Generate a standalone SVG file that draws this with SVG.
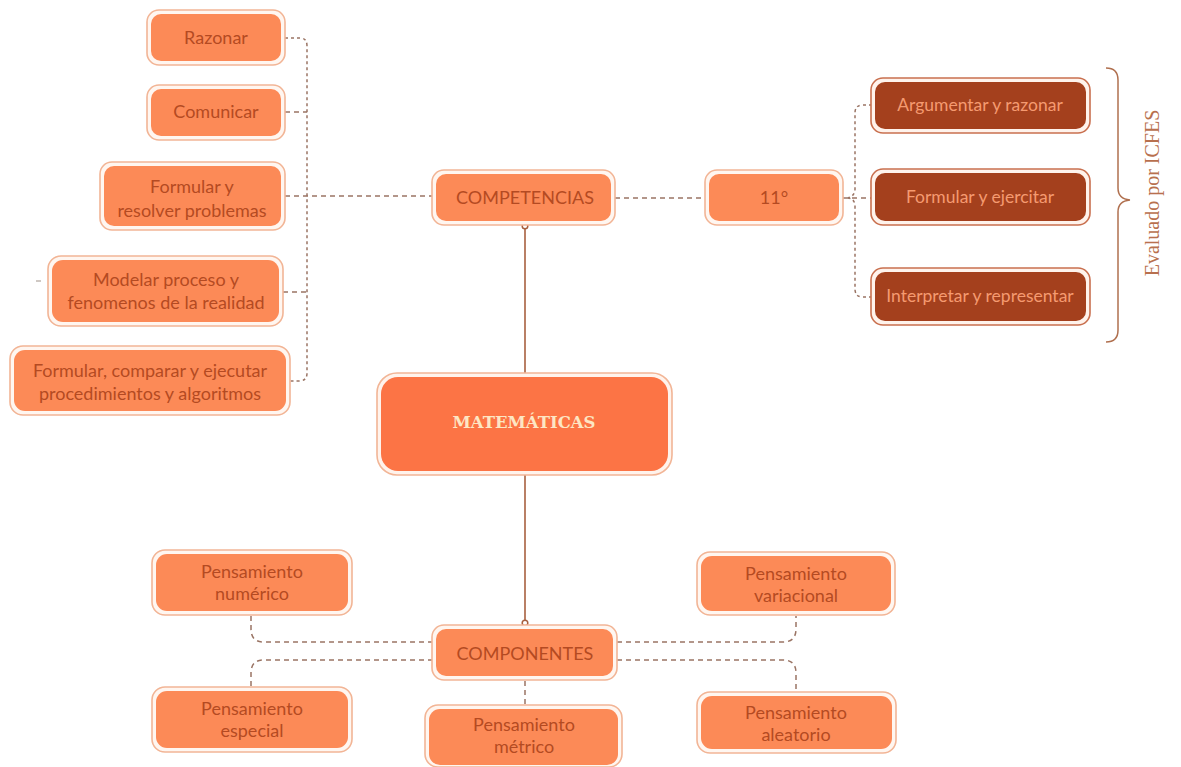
<svg xmlns="http://www.w3.org/2000/svg" width="1181" height="767" viewBox="0 0 1181 767">
<style>
.o{fill:#fff6f0;stroke:#f2b596;stroke-width:1.6}
.i{fill:#fc8a57}
.od{fill:#fff3ec;stroke:#c9704f;stroke-width:1.6}
.id{fill:#a4401d}
.t{font-family:Lato,"Liberation Sans",sans-serif;font-size:18px;fill:#b44a22;text-anchor:middle}
.td{font-family:Lato,"Liberation Sans",sans-serif;font-size:17.5px;fill:#f59a70;text-anchor:middle}
.dash{fill:none;stroke:#9a7464;stroke-width:1.5;stroke-dasharray:5 4}
.dot{fill:none;stroke:#9a7464;stroke-width:1.5;stroke-dasharray:3 3}
.solid{fill:none;stroke:#a8603f;stroke-width:1.6}
</style>
<rect width="1181" height="767" fill="#ffffff"/>
<g id="connectors">
<path class="dot" d="M285 38 H300 Q307 38 307 46 V373 Q307 381 299 381 H290"/>
<path class="dash" d="M285 112 H307"/>
<path class="dash" d="M285 196 H433"/>
<path class="dash" d="M283 292 H307"/>
<path class="dash" d="M615 198 H705"/>
<path class="dash" d="M843 198 H872"/>
<path class="dot" d="M872 105 H863 Q855 105 855 113 V189 Q855 196 848 198"/>
<path class="dot" d="M872 297 H863 Q855 297 855 289 V206 Q855 199 848 198"/>
<path class="solid" d="M525 226 V373"/>
<circle cx="525" cy="226" r="2.8" fill="#fff" stroke="#a8603f" stroke-width="1.5"/>
<path class="solid" d="M525 475 V623"/>
<circle cx="525" cy="623" r="2.8" fill="#fff" stroke="#a8603f" stroke-width="1.5"/>
<path class="dash" d="M251 616 V629 Q251 642 264 642 H433"/>
<path class="dash" d="M433 660 H264 Q251 660 251 673 V687"/>
<path class="dash" d="M617 642 H783 Q796 642 796 629 V616"/>
<path class="dash" d="M617 660 H783 Q796 660 796 673 V692"/>
<path class="dash" d="M525 681 V705"/>
<path d="M36 281 H41" stroke="#b0a39c" stroke-width="1.2"/>
</g>
<g id="razonar"><rect class="o" x="147" y="10" width="138" height="55" rx="12"/><rect class="i" x="151" y="14" width="130" height="47" rx="10"/><text class="t" x="216" y="44">Razonar</text></g>
<g id="comunicar"><rect class="o" x="147" y="85" width="138" height="55" rx="12"/><rect class="i" x="151" y="89" width="130" height="47" rx="10"/><text class="t" x="216" y="118">Comunicar</text></g>
<g id="formular-resolver"><rect class="o" x="100" y="162" width="185" height="68" rx="12"/><rect class="i" x="104" y="166" width="177" height="60" rx="10"/><text class="t" x="192" y="193">Formular y</text><text class="t" x="192" y="217">resolver problemas</text></g>
<g id="modelar"><rect class="o" x="48" y="256" width="235" height="70" rx="13"/><rect class="i" x="52" y="260" width="227" height="62" rx="11"/><text class="t" x="166" y="286">Modelar proceso y</text><text class="t" x="166" y="309">fenomenos de la realidad</text></g>
<g id="formular-comparar"><rect class="o" x="10" y="346" width="280" height="69" rx="13"/><rect class="i" x="14" y="350" width="272" height="61" rx="11"/><text class="t" x="150" y="377">Formular, comparar y ejecutar</text><text class="t" x="150" y="400">procedimientos y algoritmos</text></g>
<g id="competencias"><rect class="o" x="432" y="170" width="183" height="55" rx="12"/><rect class="i" x="436" y="174" width="175" height="47" rx="10"/><text class="t" x="525" y="204">COMPETENCIAS</text></g>
<g id="once"><rect class="o" x="705" y="170" width="138" height="55" rx="12"/><rect class="i" x="709" y="174" width="130" height="47" rx="10"/><text class="t" x="774" y="204">11°</text></g>
<g id="argumentar"><rect class="od" x="871" y="78" width="219" height="55" rx="12"/><rect class="id" x="875" y="82" width="211" height="47" rx="10"/><text class="td" x="980" y="111">Argumentar y razonar</text></g>
<g id="formular-ejercitar"><rect class="od" x="871" y="169" width="219" height="56" rx="12"/><rect class="id" x="875" y="173" width="211" height="48" rx="10"/><text class="td" x="980" y="203">Formular y ejercitar</text></g>
<g id="interpretar"><rect class="od" x="871" y="268" width="219" height="57" rx="12"/><rect class="id" x="875" y="272" width="211" height="49" rx="10"/><text class="td" x="980" y="302">Interpretar y representar</text></g>
<g id="brace">
<path d="M1106 68 Q1118 68 1118 80 V188 Q1118 199 1130 200 Q1118 201 1118 212 V330 Q1118 342 1106 342" fill="none" stroke="#b0704f" stroke-width="1.5"/>
<text x="1159" y="193" transform="rotate(-90 1159 193)" font-family="'Liberation Serif',serif" font-size="20" fill="#b8704e" text-anchor="middle">Evaluado por ICFES</text>
</g>
<g id="matematicas"><rect x="377" y="373" width="295" height="102" rx="20" fill="#fff3ec" stroke="#f2b596" stroke-width="1.6"/><rect x="381" y="377" width="287" height="94" rx="17" fill="#fc7445"/><text x="524" y="428" font-family="'DejaVu Serif',serif" font-weight="bold" font-size="16.5" fill="#fde6c4" text-anchor="middle">MATEMÁTICAS</text></g>
<g id="componentes"><rect class="o" x="432" y="625" width="185" height="55" rx="12"/><rect class="i" x="436" y="629" width="177" height="47" rx="10"/><text class="t" x="525" y="660">COMPONENTES</text></g>
<g id="numerico"><rect class="o" x="152" y="550" width="200" height="65" rx="13"/><rect class="i" x="156" y="554" width="192" height="57" rx="11"/><text class="t" x="252" y="578">Pensamiento</text><text class="t" x="252" y="600">numérico</text></g>
<g id="especial"><rect class="o" x="152" y="687" width="200" height="65" rx="13"/><rect class="i" x="156" y="691" width="192" height="57" rx="11"/><text class="t" x="252" y="715">Pensamiento</text><text class="t" x="252" y="737">especial</text></g>
<g id="metrico"><rect class="o" x="425" y="705" width="197" height="62" rx="13"/><rect class="i" x="429" y="709" width="189" height="56" rx="11"/><text class="t" x="524" y="731">Pensamiento</text><text class="t" x="524" y="753">métrico</text></g>
<g id="variacional"><rect class="o" x="697" y="552" width="198" height="63" rx="13"/><rect class="i" x="701" y="556" width="190" height="55" rx="11"/><text class="t" x="796" y="580">Pensamiento</text><text class="t" x="796" y="602">variacional</text></g>
<g id="aleatorio"><rect class="o" x="697" y="692" width="199" height="61" rx="13"/><rect class="i" x="701" y="696" width="191" height="53" rx="11"/><text class="t" x="796" y="719">Pensamiento</text><text class="t" x="796" y="741">aleatorio</text></g>
</svg>
